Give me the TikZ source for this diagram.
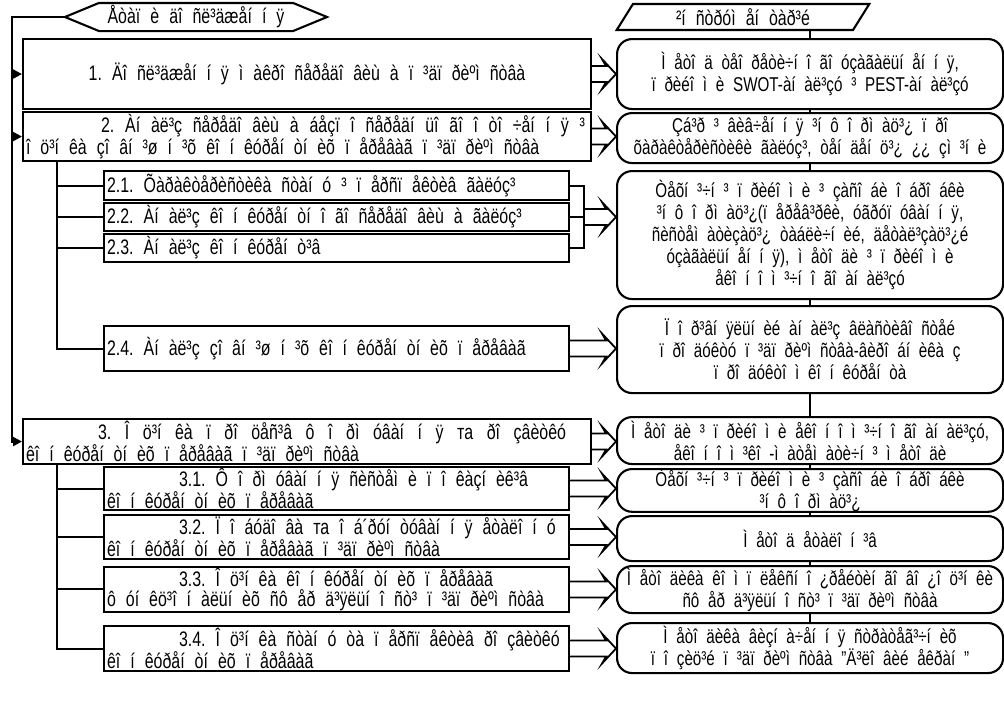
\documentclass[tikz,border=0pt]{standalone}
\usepackage{fontspec}
\setmainfont{Liberation Sans}[FakeStretch=0.76]
\usetikzlibrary{arrows.meta,calc,shapes.geometric}
\newcommand\darr[2]{%
 \draw[line width=1.8pt, line join=miter]
  ($(#1)+(0,-8)$) -- ($(#1 -| #2.west)+(-10,-8)$) -- ($(#1 -| #2.west)+(-14,-15)$) --
  (#1 -| #2.west) -- ($(#1 -| #2.west)+(-14,15)$) -- ($(#1 -| #2.west)+(-10,8)$) -- ($(#1)+(0,8)$);}
\newcommand\lfont{\fontsize{21}{20}\selectfont}
\newcommand\rfont{\fontsize{20}{22}\selectfont}
\newcommand\lspace{\spaceskip=10pt\xspaceskip=10pt\baselineskip=20pt\relax}
\newcommand\rspace{\spaceskip=8.8pt\xspaceskip=8.8pt\baselineskip=22pt\relax}
\newcommand\just[2]{\makebox[#1][s]{\spaceskip=9pt plus 20pt minus 5pt\xspaceskip=9pt plus 20pt minus 5pt\relax #2}}
\begin{document}
\begin{tikzpicture}[x=1pt,y=-1pt, line width=2.1pt,
 every node/.style={font=\lfont, inner sep=0pt, execute at begin node={\lspace}},
 lb/.style={draw, rectangle, anchor=north west, align=left, inner xsep=3pt, inner ysep=1pt},
 rb/.style={draw, rectangle, rounded corners=15pt, anchor=north west, align=center, minimum width=386pt, text width=382pt, font=\rfont, execute at begin node={\rspace}},
 fa/.style={-{Triangle[length=9pt,width=9pt]}}]
\fill[white] (0,0) rectangle (1004,702);
\useasboundingbox (0,0) rectangle (1004,702);
% headers
\node[minimum width=192pt, minimum height=26pt] (hex) at (196,17) {Åòàï è äî ñë³äæåí í ÿ};
\draw[line join=miter] (hex.north west) -- (hex.north east) -- ($(hex.east)+(34,0)$) coordinate (hexe) -- (hex.south east) -- (hex.south west) -- ($(hex.west)+(-34,0)$) coordinate (hexw) -- cycle;
\node[draw, trapezium, trapezium left angle=60, trapezium right angle=120, trapezium stretches=true, minimum width=253pt, minimum height=26pt] (para) at (743,17) {²í ñòðóì åí òàð³é};
% left column
\node[lb, minimum width=568pt, minimum height=70pt, text width=562pt, align=center] (b1) at (22,38) {1. Äî ñë³äæåí í ÿ ì àêðî ñåðåäî âèù à ï ³äï ðèºì ñòâà};
\node[lb, minimum width=568pt, minimum height=49pt, text width=562pt] (b2) at (22,111) {\hspace*{75pt}\just{484pt}{2. Àí àë³ç ñåðåäî âèù à áåçï î ñåðåäí üî ãî î òî ÷åí í ÿ ³}\\î ö³í êà çî âí ³ø í ³õ êî í êóðåí òí èõ ï åðåâàã ï ³äï ðèºì ñòâà};
\node[lb, minimum width=465pt, minimum height=29pt, text width=459pt] (b21) at (103,170) {2.1. Õàðàêòåðèñòèêà ñòàí ó ³ ï åðñï åêòèâ ãàëóç³};
\node[lb, minimum width=465pt, minimum height=28pt, text width=459pt] (b22) at (103,202) {2.2. Àí àë³ç êî í êóðåí òí î ãî ñåðåäî âèù à ãàëóç³};
\node[lb, minimum width=465pt, minimum height=28pt, text width=459pt] (b23) at (103,233) {2.3. Àí àë³ç êî í êóðåí ò³â};
\node[lb, minimum width=465pt, minimum height=45pt, text width=459pt] (b24) at (103,325) {2.4. Àí àë³ç çî âí ³ø í ³õ êî í êóðåí òí èõ ï åðåâàã};
\node[lb, minimum width=568pt, minimum height=45pt, text width=562pt] (b3) at (22,418) {\hspace*{72pt}\just{468pt}{3. Î ö³í êà ï ðî öåñ³â ô î ðì óâàí í ÿ та ðî çâèòêó}\\êî í êóðåí òí èõ ï åðåâàã ï ³äï ðèºì ñòâà};
\node[lb, minimum width=465pt, minimum height=43pt, text width=459pt] (b31) at (103,466) {\hspace*{72pt}3.1. Ô î ðì óâàí í ÿ ñèñòåì è ï î êàçí èê³â\\êî í êóðåí òí èõ ï åðåâàã};
\node[lb, minimum width=465pt, minimum height=44pt, text width=459pt] (b32) at (103,514) {\hspace*{72pt}3.2. Ï î áóäî âà та î á´ðóí òóâàí í ÿ åòàëî í ó\\êî í êóðåí òí èõ ï åðåâàã ï ³äï ðèºì ñòâà};
\node[lb, minimum width=465pt, minimum height=44pt, text width=459pt] (b33) at (103,566) {\hspace*{72pt}3.3. Î ö³í êà êî í êóðåí òí èõ ï åðåâàã\\ô óí êö³î í àëüí èõ ñô åð ä³ÿëüí î ñò³ ï ³äï ðèºì ñòâà};
\node[lb, minimum width=465pt, minimum height=45pt, text width=459pt] (b34) at (103,625) {\hspace*{72pt}3.4. Î ö³í êà ñòàí ó òà ï åðñï åêòèâ ðî çâèòêó\\êî í êóðåí òí èõ ï åðåâàã};
% right column
\node[rb, minimum height=70pt] (r1) at (616,38) {Ì åòî ä òåî ðåòè÷í î ãî óçàãàëüí åí í ÿ,\\ï ðèéî ì è SWOT-àí àë³çó ³ PEST-àí àë³çó};
\node[rb, minimum height=50pt] (r2) at (616,112) {Çá³ð ³ âèâ÷åí í ÿ ³í ô î ðì àö³¿ ï ðî\\õàðàêòåðèñòèêè ãàëóç³, òåí äåí ö³¿ ¿¿ çì ³í è};
\node[rb, minimum height=128pt] (rbig) at (616,170) {Òåõí ³÷í ³ ï ðèéî ì è ³ çàñî áè î áðî áêè\\³í ô î ðì àö³¿(ï åðåâ³ðêè, óãðóï óâàí í ÿ,\\ñèñòåì àòèçàö³¿ òàáëè÷í èé, äåòàë³çàö³¿é\\óçàãàëüí åí í ÿ), ì åòî äè ³ ï ðèéî ì è\\åêî í î ì ³÷í î ãî àí àë³çó};
\node[rb, minimum height=87pt] (r24) at (616,305) {Ï î ð³âí ÿëüí èé àí àë³ç âëàñòèâî ñòåé\\ï ðî äóêòó ï ³äï ðèºì ñòâà-âèðî áí èêà ç\\ï ðî äóêòî ì êî í êóðåí òà};
\node[rb, minimum height=47pt] (r3) at (616,416) {Ì åòî äè ³ ï ðèéî ì è åêî í î ì ³÷í î ãî àí àë³çó,\\åêî í î ì ³êî -ì àòåì àòè÷í ³ ì åòî äè};
\node[rb, minimum height=42pt] (r31) at (616,468) {Òåõí ³÷í ³ ï ðèéî ì è ³ çàñî áè î áðî áêè\\³í ô î ðì àö³¿};
\node[rb, minimum height=45pt] (r32) at (616,515) {Ì åòî ä åòàëî í ³â};
\node[rb, minimum height=47pt] (r33) at (616,565) {Ì åòî äèêà êî ì ï ëåêñí î ¿ðåéòèí ãî âî ¿î ö³í êè\\ñô åð ä³ÿëüí î ñò³ ï ³äï ðèºì ñòâà};
\node[rb, minimum height=50pt] (r34) at (616,622) {Ì åòî äèêà âèçí à÷åí í ÿ ñòðàòåã³÷í èõ\\ï î çèö³é ï ³äï ðèºì ñòâà "Ä³ëî âèé åêðàí "};
% left frame
\coordinate (fl) at (12,0);
\draw[fa] (hexw) -| (fl |- b3.west) -- (b3.west);
\draw[fa] (fl |- b1.west) -- (b1.west);
\draw[fa] (fl |- b2.west) -- (b2.west);
% trees
\coordinate (tl) at (57,0);
\draw (tl |- b2.south) -- (tl |- b24.west) -- (b24.west);
\draw (tl |- b21.west) -- (b21.west);
\draw (tl |- b22.west) -- (b22.west);
\draw (tl |- b23.west) -- (b23.west);
\draw (tl |- b3.south) -- (tl |- b34.west) -- (b34.west);
\draw (tl |- b31.west) -- (b31.west);
\draw (tl |- b32.west) -- (b32.west);
\draw (tl |- b33.west) -- (b33.west);
% bracket 2.1-2.3
\coordinate (kk) at (584,0);
\draw (b21.east) -- (kk |- b21.east) -- (kk |- b23.east) -- (b23.east);
\draw (b22.east) -- (kk |- b22.east) coordinate (k2);
% double arrows
\darr{b1.east}{r1}
\darr{b2.east}{r2}
\darr{k2}{rbig}
\darr{b24.east}{r24}
\darr{b3.east}{r3}
\darr{b31.east}{r31}
\darr{b32.east}{r32}
\darr{b33.east}{r33}
\darr{b34.east}{r34}
% right connectors
\draw (r1.north |- para.south) -- (r1.north);
\draw (r1.south) -- (r2.north);
\draw (r2.south) -- (rbig.north);
\draw (rbig.south) -- (r24.north);
\draw (r24.south) -- (r3.north);
\draw (r3.south) -- (r31.north);
\draw (r31.south) -- (r32.north);
\draw (r32.south) -- (r33.north);
\draw (r33.south) -- (r34.north);
\end{tikzpicture}
\end{document}
